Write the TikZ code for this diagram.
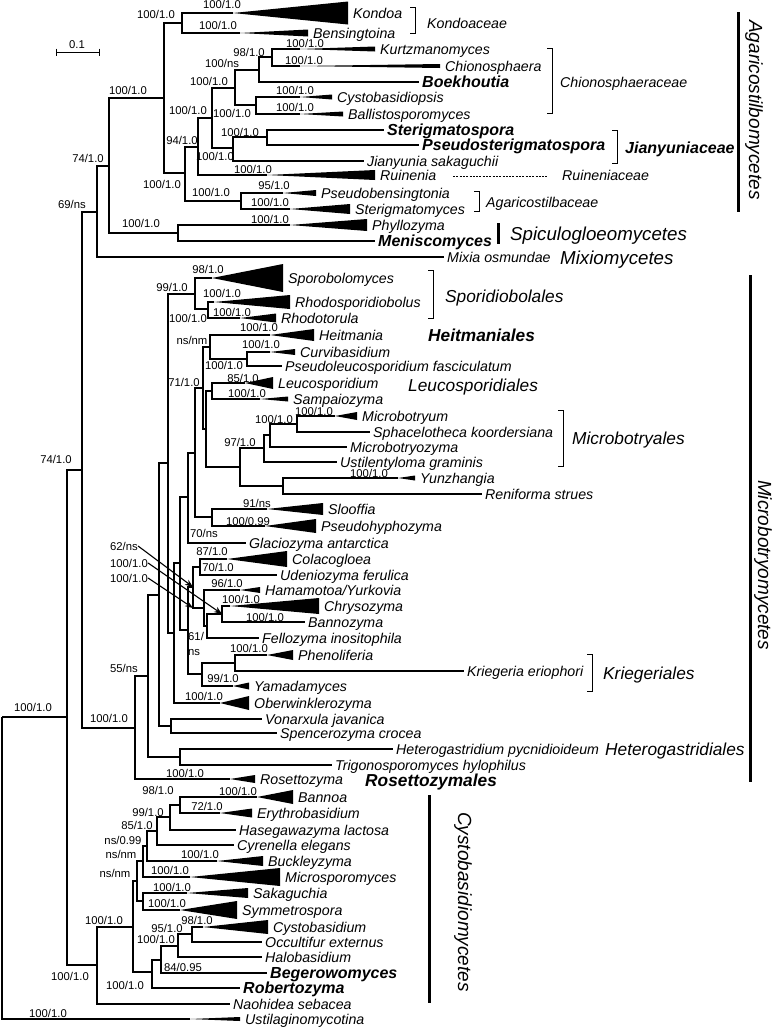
\documentclass[tikz,border=0pt]{standalone}
\usepackage{fontspec}
\setmainfont{Liberation Sans}
\usetikzlibrary{arrows.meta}
\newcommand{\cladeT}[7][tx]{%
  \coordinate (#2) at (#3,#4);
  \fill[tri] (#2) -- ({#5},{#4-#6}) -- ({#5},{#4+#6}) -- cycle;
  \node[#1] (#2-l) at ({#5+5},{#4+5}) {#7};}
\newcommand{\leafL}[5][tx]{%
  \coordinate (#2) at (#3,#4);
  \node[#1] (#2-l) at ({#3+3},{#4+5}) {#5};}
\newcommand{\twoedge}[3]{\draw[br] (#1) |- (#2); \draw[br] (#1) |- (#3);}
\newcommand{\sval}[4]{\node[sv] (#1) at (#2,#3) {#4};}
\begin{document}
\begin{tikzpicture}[x=1pt,y=-1pt,
  br/.style={line width=1.1pt},
  tri/.style={fill=black},
  tx/.style={font=\fontsize{14.2}{16}\selectfont\itshape, inner sep=0pt, anchor=base west},
  txb/.style={font=\fontsize{16}{18}\selectfont\bfseries\itshape, inner sep=0pt, anchor=base west},
  sv/.style={font=\fontsize{11.3}{13}\selectfont, inner sep=0pt, anchor=base},
  ordl/.style={font=\fontsize{17.3}{19}\selectfont\itshape, inner sep=0pt, anchor=base west},
  ordb/.style={font=\fontsize{17.3}{19}\selectfont\bfseries\itshape, inner sep=0pt, anchor=base west},
  clsl/.style={font=\fontsize{18.7}{21}\selectfont\itshape, inner sep=0pt, anchor=base west},
  clsr/.style={font=\fontsize{19}{21}\selectfont\itshape, inner sep=0pt, anchor=center, rotate=-90},
  brk/.style={line width=0.9pt},
  bar/.style={line width=3pt},
  arr/.style={line width=1.1pt, -{Stealth[length=8pt,width=6pt]}},
]
\path[use as bounding box] (0,0) rectangle (774,1029);

% ---------- internal nodes ----------
\coordinate (root) at (2,717);
\coordinate (n67) at (67,717);
\coordinate (n82) at (82,470);
\coordinate (n97a) at (97,212);
\coordinate (n109) at (109,166);
\coordinate (n164) at (164,98);
\coordinate (n182) at (182,23);
\coordinate (n185) at (185,173);
\coordinate (n198) at (198,147);
\coordinate (n212a) at (212,118);
\coordinate (n235a) at (235,88);
\coordinate (n259) at (259,70);
\coordinate (n272) at (272,57);
\coordinate (n256) at (256,105);
\coordinate (n233) at (233,148);
\coordinate (n267) at (267,137);
\coordinate (n241) at (241,201);
\coordinate (n178) at (178,233);
\coordinate (n135) at (135,728);
\coordinate (n148) at (148,676);
\coordinate (n180h) at (180,757);
\coordinate (n159) at (159,595);
\coordinate (n171) at (171,726);
\coordinate (n168) at (168,463);
\coordinate (n195s) at (195,294);
\coordinate (n208) at (208,309);
\coordinate (n174) at (174,633);
\coordinate (n180z) at (180,563);
\coordinate (n188w) at (188,497);
\coordinate (n195v) at (195,453);
\coordinate (n203) at (203,388);
\coordinate (n210) at (210,347);
\coordinate (n247) at (247,359);
\coordinate (n206) at (206,429);
\coordinate (n212l) at (212,391);
\coordinate (n240) at (240,467);
\coordinate (n264) at (264,448);
\coordinate (n270) at (270,435);
\coordinate (n297) at (297,424);
\coordinate (n283) at (283,486);
\coordinate (n212p) at (212,517);
\coordinate (n188y) at (188,630);
\coordinate (n193x) at (193,587);
\coordinate (j204) at (193,608);
\coordinate (n200) at (200,567);
\coordinate (n204) at (204,608);
\coordinate (n207) at (207,626);
\coordinate (n222) at (222,614);
\coordinate (n202) at (202,674);
\coordinate (n235k) at (235,663);
\coordinate (n97c) at (97,965);
\coordinate (n133) at (133,927);
\coordinate (n137) at (137,881);
\coordinate (n143) at (143,861);
\coordinate (n147) at (147,846);
\coordinate (n157) at (157,831);
\coordinate (n170) at (170,817);
\coordinate (n180b) at (180,805);
\coordinate (n143s) at (143,901);
\coordinate (n152) at (152,972);
\coordinate (n161) at (161,960);
\coordinate (n178c) at (178,946);
\coordinate (n192) at (192,934);

% ---------- collapsed clades ----------
\cladeT{kondoa}{233}{13}{348}{11.5}{Kondoa}
\cladeT{bensing}{240}{33}{308}{3.5}{Bensingtoina}
\cladeT{kurtz}{300}{49}{375}{2.5}{Kurtzmanomyces}
\cladeT{chiono}{300}{66}{440}{2}{Chionosphaera}
\cladeT{cystops}{300}{97}{332}{2.5}{Cystobasidiopsis}
\cladeT{ballisto}{300}{114}{343}{2.5}{Ballistosporomyces}
\cladeT{ruinenia}{267}{175}{375}{5}{Ruinenia}
\cladeT{pbens}{283}{193}{316}{3}{Pseudobensingtonia}
\cladeT{sterigmy}{290}{209}{350}{5}{Sterigmatomyces}
\cladeT{phyllo}{290}{225}{367}{6}{Phyllozyma}
\cladeT{sporob}{212}{278}{283}{14}{Sporobolomyces}
\cladeT{rhodosp}{214}{302}{290}{7}{Rhodosporidiobolus}
\cladeT{rhodot}{240}{318}{276}{4.5}{Rhodotorula}
\cladeT{heitm}{270}{335}{314}{6}{Heitmania}
\cladeT{curvi}{270}{352}{295}{3}{Curvibasidium}
\cladeT{leuco}{245}{383}{273}{6}{Leucosporidium}
\cladeT{sampaio}{260}{399}{288}{2.5}{Sampaiozyma}
\cladeT{microbot}{335}{416}{357}{4}{Microbotryum}
\cladeT{yunzh}{398}{478}{415}{2.5}{Yunzhangia}
\cladeT{slooff}{267}{509}{323}{6}{Slooffia}
\cladeT{phypho}{265}{526}{316}{7}{Pseudohyphozyma}
\cladeT{colaco}{227}{559}{287}{8}{Colacogloea}
\cladeT{hamam}{240}{590}{260}{3}{Hamamotoa/Yurkovia}
\cladeT{chryso}{230}{606}{319}{8}{Chrysozyma}
\cladeT{phenol}{267}{655}{293}{5}{Phenoliferia}
\cladeT{yamada}{233}{686}{249}{3.5}{Yamadamyces}
\cladeT{oberw}{220}{703}{249}{7}{Oberwinklerozyma}
\cladeT{rosetto}{230}{779}{255}{4}{Rosettozyma}
\cladeT{bannoa}{257}{797}{293}{7}{Bannoa}
\cladeT{erythro}{220}{813}{252}{4.5}{Erythrobasidium}
\cladeT{buckley}{217}{861}{263}{5}{Buckleyzyma}
\cladeT{microsp}{190}{877}{280}{9}{Microsporomyces}
\cladeT{sakag}{187}{893}{248}{5}{Sakaguchia}
\cladeT{symmet}{180}{910}{237}{9}{Symmetrospora}
\cladeT{cystob}{203}{927}{268}{7}{Cystobasidium}
\cladeT{ustil}{190}{1019}{240}{2}{Ustilaginomycotina}

% ---------- single leaves ----------
\leafL[txb]{boekh}{419}{82}{Boekhoutia}
\leafL[txb]{sterigsp}{384}{130}{Sterigmatospora}
\leafL[txb]{psterig}{419}{145}{Pseudosterigmatospora}
\leafL{jianyun}{364}{161}{Jianyunia sakaguchii}
\leafL[txb]{menisc}{375}{241}{Meniscomyces}
\leafL{mixia}{444}{257}{Mixia osmundae}
\leafL{pleuco}{282}{366}{Pseudoleucosporidium fasciculatum}
\leafL{sphacel}{370}{432}{Sphacelotheca koordersiana}
\leafL{mbozyma}{347}{447}{Microbotryozyma}
\leafL{ustilent}{337}{462}{Ustilentyloma graminis}
\leafL{renif}{482}{494}{Reniforma strues}
\leafL{glacio}{246}{543}{Glaciozyma antarctica}
\leafL{udenio}{277}{575}{Udeniozyma ferulica}
\leafL{bannoz}{305}{622}{Bannozyma}
\leafL{fello}{259}{638}{Fellozyma inositophila}
\leafL{krieg}{464}{671}{Kriegeria eriophori}
\leafL{vonarx}{262}{719}{Vonarxula javanica}
\leafL{spencer}{277}{733}{Spencerozyma crocea}
\leafL{heterog}{393}{749}{Heterogastridium pycnidioideum}
\leafL{trigono}{332}{765}{Trigonosporomyces hylophilus}
\leafL{hasega}{236}{830}{Hasegawazyma lactosa}
\leafL{cyren}{234}{845}{Cyrenella elegans}
\leafL{occult}{262}{942}{Occultifur externus}
\leafL{halob}{262}{957}{Halobasidium}
\leafL[txb]{begero}{267}{973}{Begerowomyces}
\leafL[txb]{roberto}{240}{988}{Robertozyma}
\leafL{naohid}{230}{1004}{Naohidea sebacea}

% ---------- branches ----------
\twoedge{root}{n67}{ustil}
\twoedge{n67}{n82}{n97c}
\twoedge{n82}{n97a}{n135}
\twoedge{n97a}{n109}{mixia}
\twoedge{n109}{n164}{n178}
\twoedge{n164}{n182}{n185}
\twoedge{n182}{kondoa}{bensing}
\twoedge{n185}{n198}{n241}
\twoedge{n198}{n212a}{ruinenia}
\twoedge{n212a}{n235a}{n233}
\twoedge{n235a}{n259}{n256}
\twoedge{n259}{n272}{boekh}
\twoedge{n272}{kurtz}{chiono}
\twoedge{n256}{cystops}{ballisto}
\twoedge{n233}{n267}{jianyun}
\twoedge{n267}{sterigsp}{psterig}
\twoedge{n241}{pbens}{sterigmy}
\twoedge{n178}{phyllo}{menisc}
\twoedge{n135}{n148}{rosetto}
\twoedge{n148}{n159}{n180h}
\twoedge{n180h}{heterog}{trigono}
\twoedge{n159}{n168}{n171}
\twoedge{n171}{vonarx}{spencer}
\twoedge{n168}{n195s}{n174}
\twoedge{n195s}{sporob}{n208}
\twoedge{n208}{rhodosp}{rhodot}
\twoedge{n174}{n180z}{oberw}
\twoedge{n180z}{n188w}{n188y}
\twoedge{n188w}{n195v}{glacio}
\twoedge{n195v}{n203}{n212p}
\twoedge{n203}{n210}{n206}
\twoedge{n210}{heitm}{n247}
\twoedge{n247}{curvi}{pleuco}
\twoedge{n206}{n212l}{n240}
\twoedge{n212l}{leuco}{sampaio}
\twoedge{n240}{n264}{n283}
\twoedge{n264}{n270}{ustilent}
\twoedge{n270}{n297}{mbozyma}
\twoedge{n297}{microbot}{sphacel}
\twoedge{n283}{yunzh}{renif}
\twoedge{n212p}{slooff}{phypho}
\twoedge{n188y}{n193x}{n202}
\twoedge{n193x}{n200}{n204}
\twoedge{n200}{colaco}{udenio}
\twoedge{n204}{hamam}{n207}
\twoedge{n207}{n222}{fello}
\twoedge{n222}{chryso}{bannoz}
\twoedge{n202}{n235k}{yamada}
\twoedge{n235k}{phenol}{krieg}
\twoedge{n97c}{n133}{naohid}
\twoedge{n133}{n137}{n152}
\twoedge{n137}{n143}{n143s}
\twoedge{n143}{n147}{microsp}
\twoedge{n147}{n157}{buckley}
\twoedge{n157}{n170}{cyren}
\twoedge{n170}{n180b}{hasega}
\twoedge{n180b}{bannoa}{erythro}
\twoedge{n143s}{sakag}{symmet}
\twoedge{n152}{n161}{roberto}
\twoedge{n161}{n178c}{begero}
\twoedge{n178c}{n192}{halob}
\twoedge{n192}{cystob}{occult}

% ---------- support values ----------
\sval{s1}{222}{8}{100/1.0}
\sval{s2}{218}{29}{100/1.0}
\sval{s3}{156}{18}{100/1.0}
\sval{s4}{249}{56}{98/1.0}
\sval{s5}{305}{47}{100/1.0}
\sval{s6}{304}{64}{100/1.0}
\sval{s7}{222}{67}{100/ns}
\sval{s8}{209}{85}{100/1.0}
\sval{s9}{128}{94}{100/1.0}
\sval{s10}{188}{114}{100/1.0}
\sval{s11}{295}{94}{100/1.0}
\sval{s12}{295}{111}{100/1.0}
\sval{s13}{232}{117}{100/1.0}
\sval{s14}{182}{144}{94/1.0}
\sval{s15}{240}{136}{100/1.0}
\sval{s16}{215}{160}{100/1.0}
\sval{s17}{88}{162}{74/1.0}
\sval{s18}{253}{173}{100/1.0}
\sval{s19}{162}{188}{100/1.0}
\sval{s20}{211}{196}{100/1.0}
\sval{s21}{274}{189}{95/1.0}
\sval{s22}{270}{206}{100/1.0}
\sval{s23}{72}{208}{69/ns}
\sval{s24}{270}{223}{100/1.0}
\sval{s25}{141}{227}{100/1.0}
\sval{s26}{208}{273}{98/1.0}
\sval{s27}{172}{291}{99/1.0}
\sval{s28}{222}{297}{100/1.0}
\sval{s29}{188}{322}{100/1.0}
\sval{s30}{232}{316}{100/1.0}
\sval{s31}{259}{331}{100/1.0}
\sval{s32}{192}{344}{ns/nm}
\sval{s33}{261}{348}{100/1.0}
\sval{s34}{224}{369}{100/1.0}
\sval{s35}{243}{382}{85/1.0}
\sval{s36}{184}{386}{71/1.0}
\sval{s37}{247}{397}{100/1.0}
\sval{s38}{314}{415}{100/1.0}
\sval{s39}{274}{423}{100/1.0}
\sval{s40}{240}{446}{97/1.0}
\sval{s41}{369}{477}{100/1.0}
\sval{s42}{257}{507}{91/ns}
\sval{s43}{56}{463}{74/1.0}
\sval{s44}{248}{525}{100/0.99}
\sval{s45}{204}{537}{70/ns}
\sval{s46}{124}{550}{62/ns}
\sval{s47}{212}{555}{87/1.0}
\sval{s48}{129}{567}{100/1.0}
\sval{s49}{218}{571}{70/1.0}
\sval{s50}{129}{582}{100/1.0}
\sval{s51}{227}{587}{96/1.0}
\sval{s52}{241}{603}{100/1.0}
\sval{s53}{265}{621}{100/1.0}
\node[sv,anchor=base west] (s54a) at (188,640) {61/};
\node[sv,anchor=base west] (s54b) at (188,655) {ns};
\sval{s55}{249}{652}{100/1.0}
\sval{s56}{124}{672}{55/ns}
\sval{s57}{223}{682}{99/1.0}
\sval{s58}{204}{700}{100/1.0}
\sval{s59}{33}{711}{100/1.0}
\sval{s60}{109}{722}{100/1.0}
\sval{s61}{185}{777}{100/1.0}
\sval{s62}{238}{795}{100/1.0}
\sval{s63}{158}{794}{98/1.0}
\sval{s64}{207}{810}{72/1.0}
\sval{s65}{148}{816}{99/1.0}
\sval{s66}{137}{829}{85/1.0}
\sval{s67}{123}{844}{ns/0.99}
\sval{s68}{121}{858}{ns/nm}
\sval{s69}{200}{858}{100/1.0}
\sval{s70}{115}{877}{ns/nm}
\sval{s71}{170}{874}{100/1.0}
\sval{s72}{172}{891}{100/1.0}
\sval{s73}{167}{907}{100/1.0}
\sval{s74}{104}{924}{100/1.0}
\sval{s75}{197}{924}{98/1.0}
\sval{s76}{167}{932}{95/1.0}
\sval{s77}{156}{943}{100/1.0}
\sval{s78}{183}{971}{84/0.95}
\sval{s79}{70}{980}{100/1.0}
\sval{s80}{125}{989}{100/1.0}
\sval{s81}{48}{1017}{100/1.0}

% ---------- arrows ----------
\draw[arr] (s46.east) -- (n193x);
\draw[arr] (s48.east) -- (n222);
\draw[arr] (s50.east) -- (j204);

% ---------- scale bar ----------
\coordinate (sb1) at (56,52);
\coordinate (sb2) at (99,52);
\draw[line width=1pt] (sb1) -- (sb2);
\draw[line width=1pt] (56,48.5) -- (56,55.5);
\draw[line width=1pt] (99,48.5) -- (99,55.5);
\node[sv] (sbl) at (77,48) {0.1};

% ---------- brackets and group labels ----------
\draw[brk] (410,7) -- (415,7) -- (415,33) -- (410,33);
\node[tx] (kondoaceae) at (427,28) {Kondoaceae};
\draw[brk] (547,48) -- (552,48) -- (552,113) -- (547,113);
\node[tx] (chionaceae) at (560,87) {Chionosphaeraceae};
\draw[brk] (612,130) -- (617,130) -- (617,163) -- (612,163);
\node[txb] (jianyaceae) at (625,153) {Jianyuniaceae};
\draw[line width=0.7pt, dash pattern=on 2pt off 1.3pt] (453,176) -- (548,176);
\node[tx] (ruinaceae) at (562,180) {Ruineniaceae};
\draw[brk] (474,191) -- (479,191) -- (479,211) -- (474,211);
\node[tx] (agaraceae) at (486,207) {Agaricostilbaceae};
\draw[bar] (498,223) -- (498,244);
\node[clsl] (spicul) at (510,240) {Spiculogloeomycetes};
\node[clsl] (mixio) at (560,264) {Mixiomycetes};
\draw[bar] (738,12) -- (738,212);
\node[clsr] (agarico) at (754,110) {Agaricostilbomycetes};

\draw[brk] (428,270) -- (433,270) -- (433,318) -- (428,318);
\node[ordl] (sporid) at (445,302) {Sporidiobolales};
\node[ordb] (heitmales) at (428,341) {Heitmaniales};
\node[ordl] (leucales) at (408,391) {Leucosporidiales};
\draw[brk] (558,410) -- (563,410) -- (563,466) -- (558,466);
\node[ordl] (microbales) at (572,444) {Microbotryales};
\draw[brk] (587,654) -- (592,654) -- (592,691) -- (587,691);
\node[ordl] (kriegales) at (603,679) {Kriegeriales};
\node[ordl] (heterales) at (605,755) {Heterogastridiales};
\node[ordb] (rosetales) at (365,786) {Rosettozymales};
\draw[bar] (750,275) -- (750,782);
\node[clsr] (microbcls) at (763,565) {Microbotryomycetes};
\draw[bar] (429,795) -- (429,1003);
\node[clsr] (cystocls) at (463,902) {Cystobasidiomycetes};
\end{tikzpicture}
\end{document}
